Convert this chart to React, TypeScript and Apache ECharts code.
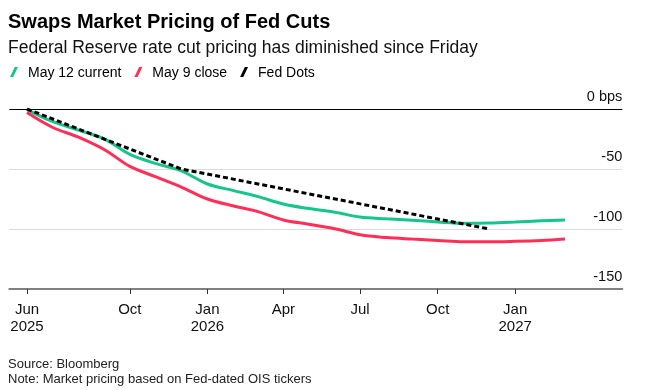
import React, { useEffect, useRef } from "react";
import * as echarts from "echarts";

// ---- data ----
const months = [
  "2025-06-01", "2025-07-01", "2025-08-01", "2025-09-01", "2025-10-01", "2025-11-01", "2025-12-01",
  "2026-01-01", "2026-02-01", "2026-03-01", "2026-04-01", "2026-05-01", "2026-06-01",
  "2026-07-01", "2026-08-01", "2026-09-01", "2026-10-01", "2026-11-01", "2026-12-01",
  "2027-01-01", "2027-02-01", "2027-03-01",
];
const may12Current = [
  -0.5, -10.4, -17.6, -25.1, -37.8, -45.5, -51.5,
  -62.5, -68, -72.8, -79.2, -83, -86,
  -90, -91.5, -92.7, -94.1, -95.2, -95,
  -94.2, -93.2, -92.6,
];
const may9Close = [
  -3, -15.2, -23.4, -33.9, -47.8, -56.6, -65.1,
  -75, -80.8, -85.3, -92.5, -96, -99.8,
  -104.8, -107.1, -108.4, -109.5, -110.6, -110.7,
  -110.3, -109.6, -108.4,
];
const dotsDates = ["2025-06-01", "2025-12-01", "2026-12-01"];
const fedDots = [0, -50, -100];

const xTickDates = ["2025-06-01", "2025-10-01", "2026-01-01", "2026-04-01", "2026-07-01", "2026-10-01", "2027-01-01"];
const xTickLabels = ["Jun\n2025", "Oct", "Jan\n2026", "Apr", "Jul", "Oct", "Jan\n2027"];
const xMin = "2025-05-11";
const xMax = "2027-05-08";

const seriesNames = ["May 12 current", "May 9 close", "Fed Dots"];
const colors = ["#14c68b", "#ff2e57", "#000000"];

const title = "Swaps Market Pricing of Fed Cuts";
const subtitle = "Federal Reserve rate cut pricing has diminished since Friday";
const source = "Source: Bloomberg";
const note = "Note: Market pricing based on Fed-dated OIS tickers";

const DAY = 86400000;
const t = (s: string) => Math.round(Date.UTC(+s.slice(0, 4), +s.slice(5, 7) - 1, +s.slice(8, 10)) / DAY);

export default function App() {
  const ref = useRef<HTMLDivElement>(null);
  useEffect(() => {
    if (!ref.current) return;
    const chart = echarts.init(ref.current, undefined, { renderer: "svg" });
    const tickDays = xTickDates.map(t);
    const font = "'Liberation Sans', Arial, Helvetica, sans-serif";
    const slash = "path://M0,10 L3.2,10 L8,0 L4.8,0 Z";
    const option: any = {
      animation: false,
      textStyle: { fontFamily: font },
      grid: { left: 9.3, right: 26.7, top: 109, bottom: 101 },
      graphic: [
        { type: "text", left: 8, top: 11, style: { text: title, font: `bold 20px ${font}`, fill: "#000" } },
        { type: "text", left: 8, top: 38, style: { text: subtitle, font: `17.5px ${font}`, fill: "#111" } },
        { type: "text", left: 8, top: 357, style: { text: source, font: `13px ${font}`, fill: "#222" } },
        { type: "text", left: 8, top: 371.5, style: { text: note, font: `13px ${font}`, fill: "#222" } },
      ],
      legend: {
        left: 10,
        top: 65,
        padding: 0,
        itemGap: 13,
        itemWidth: 8,
        itemHeight: 10,
        data: seriesNames.map((n, i) => ({ name: n, icon: slash, itemStyle: { color: colors[i], borderWidth: 0 } })),
        textStyle: { fontSize: 14, color: "#000", fontFamily: font, padding: [0, 0, 0, 5] },
      },
      xAxis: {
        type: "value",
        min: t(xMin),
        max: t(xMax),
        axisLine: { show: true, onZero: false, lineStyle: { color: "#808080", width: 2 } },
        axisTick: { show: true, customValues: tickDays, length: 5, lineStyle: { color: "#333", width: 1 } },
        axisLabel: {
          customValues: tickDays,
          margin: 11,
          fontSize: 15,
          lineHeight: 17,
          color: "#111",
          fontFamily: font,
          formatter: (v: number) => {
            let best = 0;
            for (let i = 0; i < tickDays.length; i++) {
              if (Math.abs(tickDays[i] - v) < Math.abs(tickDays[best] - v)) best = i;
            }
            return xTickLabels[best];
          },
        },
        splitLine: { show: false },
      },
      yAxis: {
        type: "value",
        position: "right",
        min: -150,
        max: 0,
        interval: 50,
        axisLine: { show: false },
        axisTick: { show: false },
        axisLabel: {
          inside: true,
          margin: 0,
          fontSize: 14.5,
          color: "#111",
          fontFamily: font,
          verticalAlign: "bottom",
          lineHeight: 15,
          padding: [0, 0, 6, 0],
          formatter: (v: number) => (v === 0 ? "0 bps" : String(v)),
        },
        splitLine: { show: true, showMinLine: false, showMaxLine: false, lineStyle: { color: "#dcdcdc", width: 1 } },
      },
      series: [
        {
          name: seriesNames[0],
          type: "line",
          data: months.map((d, i) => [t(d), may12Current[i]]),
          showSymbol: false,
          smooth: 0.35,
          lineStyle: { color: colors[0], width: 3 },
          itemStyle: { color: colors[0] },
          markLine: {
            silent: true,
            symbol: "none",
            label: { show: false },
            lineStyle: { color: "#000", width: 1, type: "solid" },
            data: [{ yAxis: 0 }],
            z: 1,
          },
          z: 3,
        },
        {
          name: seriesNames[1],
          type: "line",
          data: months.map((d, i) => [t(d), may9Close[i]]),
          showSymbol: false,
          smooth: 0.35,
          lineStyle: { color: colors[1], width: 3 },
          itemStyle: { color: colors[1] },
          z: 3,
        },
        {
          name: seriesNames[2],
          type: "line",
          data: dotsDates.map((d, i) => [t(d), fedDots[i]]),
          showSymbol: false,
          lineStyle: { color: colors[2], width: 3, type: [5, 3] },
          itemStyle: { color: colors[2] },
          z: 4,
        },
      ],
    };
    chart.setOption(option);
    return () => chart.dispose();
  }, []);
  return <div ref={ref} style={{ position: "fixed", left: 0, top: 0, width: 649, height: 390 }} />;
}
